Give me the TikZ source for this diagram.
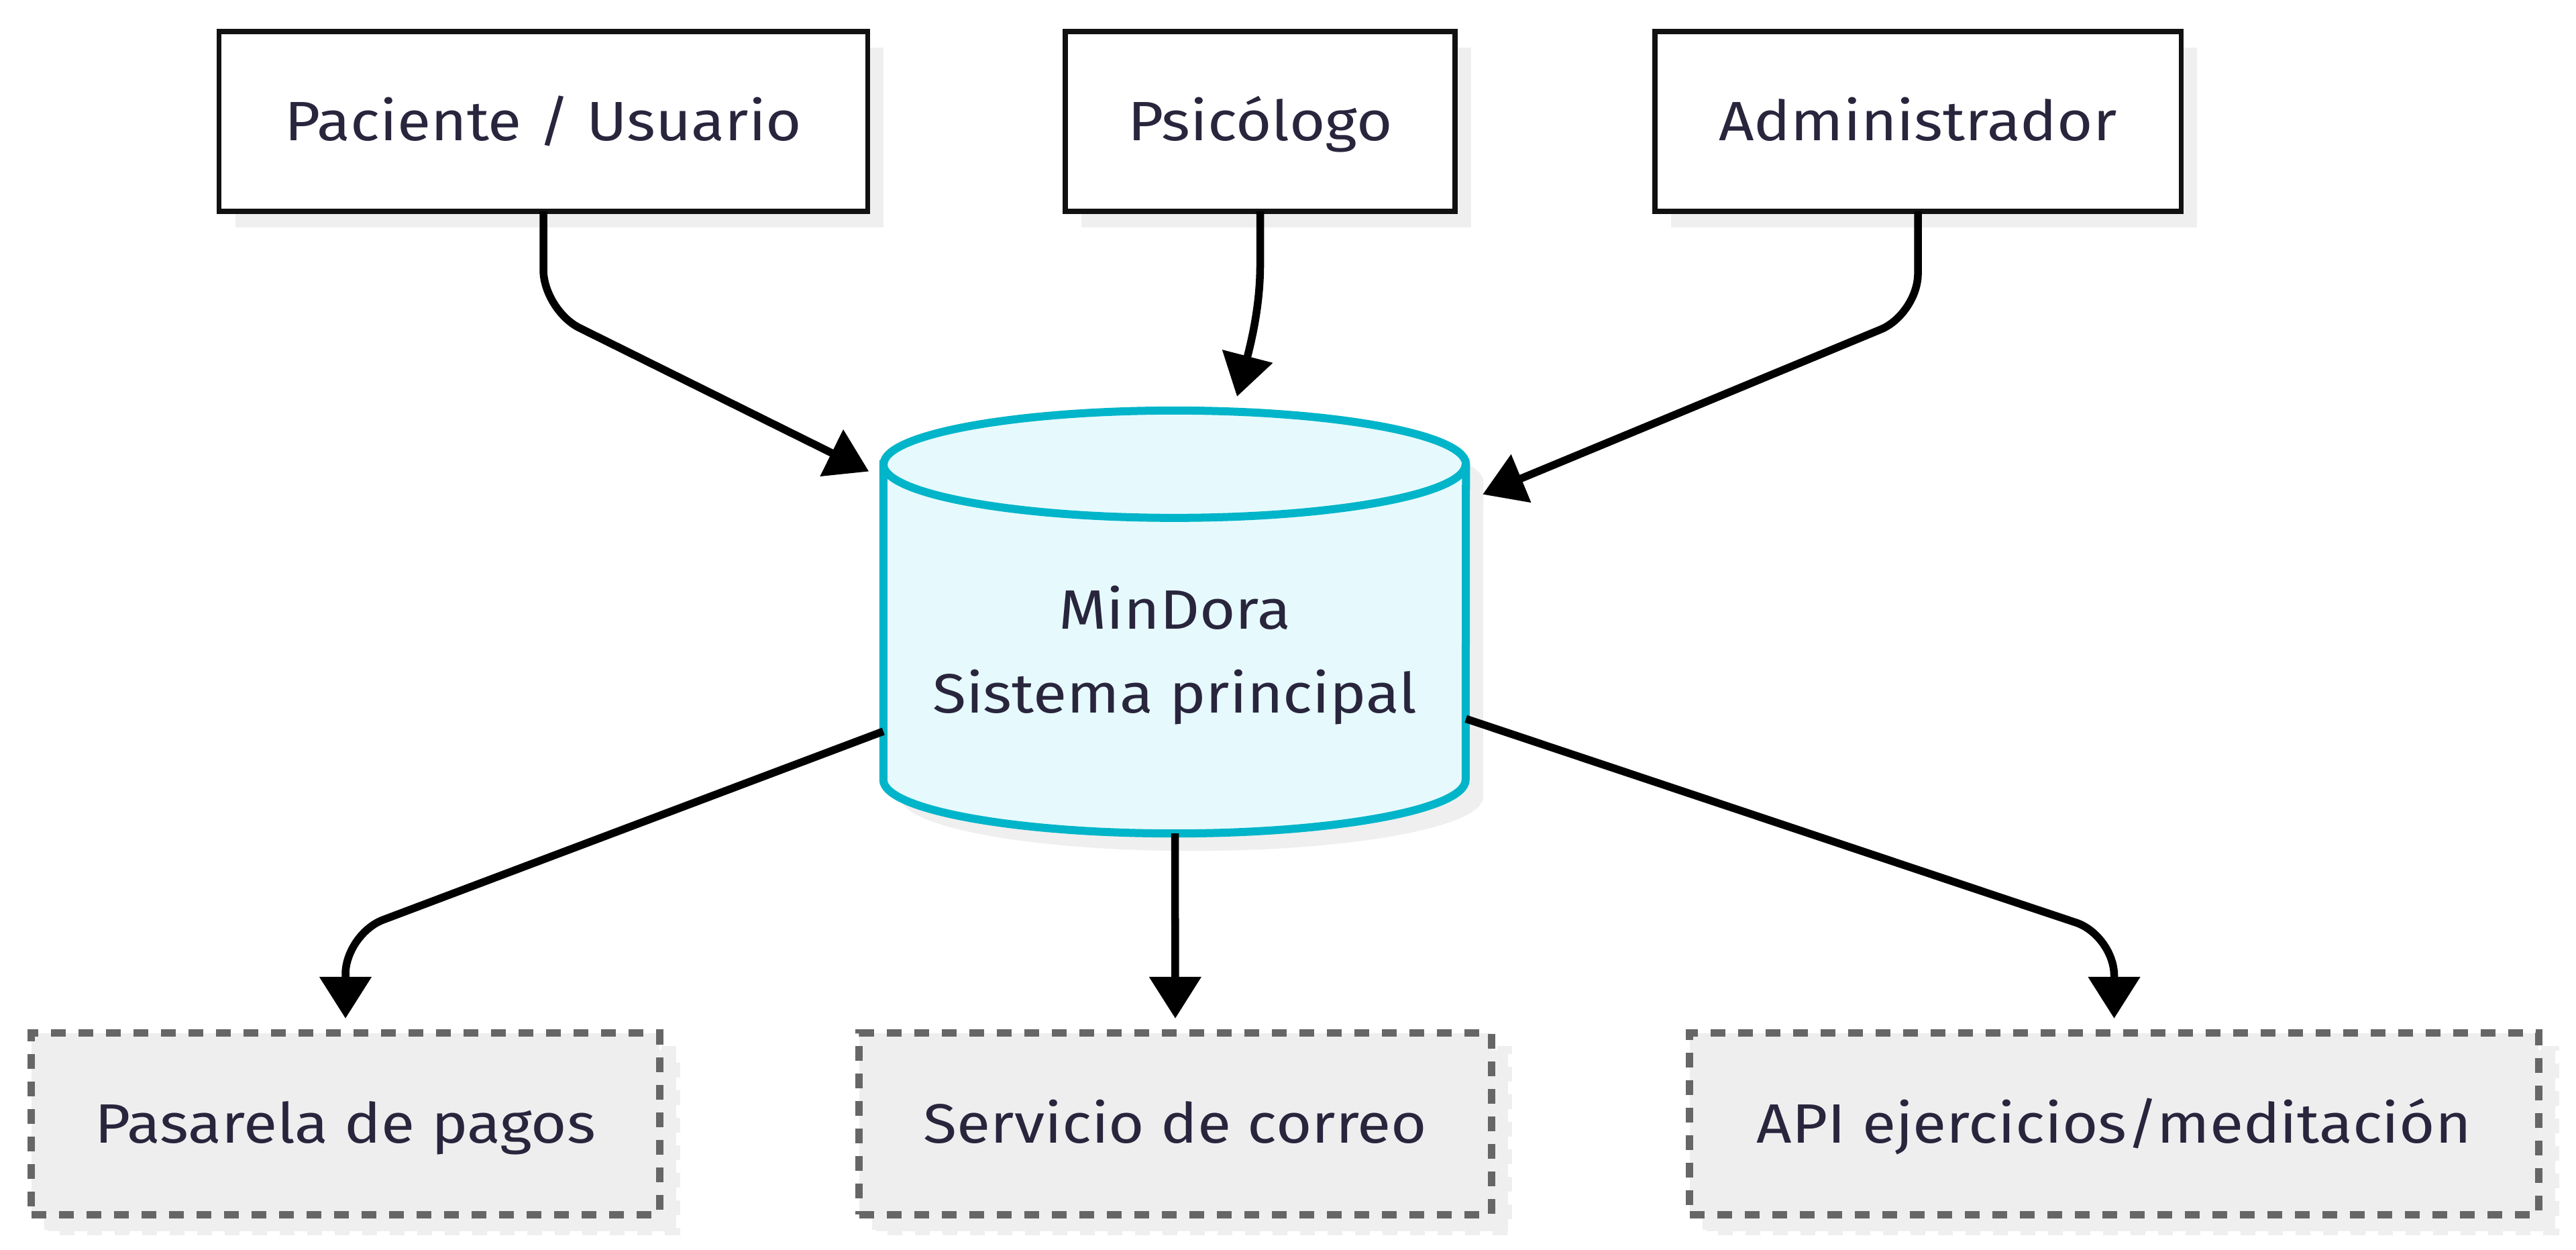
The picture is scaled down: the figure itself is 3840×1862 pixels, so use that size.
\documentclass[tikz,border=0pt]{standalone}
\usepackage{fontspec}
\setmainfont{Fira Sans}[FakeStretch=1.11]
\usetikzlibrary{arrows.meta,calc}
\pgfdeclarelayer{bg}
\pgfsetlayers{bg,main}
\definecolor{txt}{HTML}{28253D}
\definecolor{cyanS}{HTML}{00B5C9}
\definecolor{cyanF}{HTML}{E6FAFD}
\definecolor{shadowC}{HTML}{EFEFEF}
\definecolor{dashC}{HTML}{666666}
\definecolor{extF}{HTML}{EEEEEE}
\definecolor{boxS}{HTML}{111111}
\begin{document}
\begin{tikzpicture}[x=0.01cm,y=-0.01cm,
  lbl/.style={font=\fontsize{23.5}{35.6}\selectfont, text=txt, text height=0.57cm, text depth=0pt, inner sep=0pt, outer sep=0pt},
  actor/.style={lbl, draw=boxS, fill=white, line width=0.075cm, minimum height=2.68cm},
  ext/.style={lbl, draw=dashC, fill=extF, line width=0.11cm, dash pattern=on 0.22cm off 0.19cm, minimum height=2.7cm},
  extshadow/.style={fill=shadowC, draw=shadowC, line width=0.11cm, dash pattern=on 0.22cm off 0.19cm},
  cyltxt/.style={font=\fontsize{23.5}{35.6}\selectfont, text=txt, inner sep=0pt, anchor=base},
  cyl/.style={fill=cyanF, draw=cyanS, line width=0.12cm},
  arr/.style={line width=0.115cm, rounded corners=0.6cm, -{Triangle[length=0.62cm,width=0.75cm]}},
]
\useasboundingbox (0,0) rectangle (3840,1862);
\begin{pgfonlayer}{bg}
\fill[white] (0,0) rectangle (3840,1862);
\end{pgfonlayer}

% actors
\node[actor, minimum width=9.66cm] (pac) at (810,181) {Paciente / Usuario};
\node[actor, minimum width=5.81cm] (psi) at (1878.5,181) {Psicólogo};
\node[actor, minimum width=7.84cm] (adm) at (2859,181) {Administrador};

% central system (cylinder)
\node[inner sep=0pt, outer sep=0pt, minimum width=8.68cm, minimum height=6.30cm] (sys) at (1751,927) {};
\filldraw[cyl] ($(sys.north west)+(0,80)$) -- ($(sys.south west)+(0,-80)$)
  arc[start angle=180, end angle=0, x radius=434, y radius=80]
  -- ($(sys.north east)+(0,80)$)
  arc[start angle=0, end angle=-180, x radius=434, y radius=80] -- cycle;
\draw[cyl, fill=none] ($(sys.north west)+(0,80)$) arc[start angle=180, end angle=0, x radius=434, y radius=80];
\node[cyltxt] (sysA) at (1751,937) {MinDora};
\node[cyltxt] (sysB) at (1751,1062) {Sistema principal};

% external services
\node[ext, minimum width=9.36cm] (pas) at (515,1675) {Pasarela de pagos};
\node[ext, minimum width=9.42cm] (srv) at (1752,1675) {Servicio de correo};
\node[ext, minimum width=12.65cm] (api) at (3151.5,1675) {API ejercicios/meditación};

% shadows
\begin{pgfonlayer}{bg}
\foreach \n in {pac,psi,adm}{
  \fill[shadowC] ($(\n.north west)+(24,24)$) rectangle ($(\n.south east)+(24,24)$);
}
\foreach \n in {pas,srv,api}{
  \path[extshadow] ($(\n.north west)+(25,25)$) rectangle ($(\n.south east)+(25,25)$);
}
\fill[shadowC] ($(sys.north west)+(26,106)$) -- ($(sys.south west)+(26,-54)$)
  arc[start angle=180, end angle=0, x radius=434, y radius=80]
  -- ($(sys.north east)+(26,106)$)
  arc[start angle=0, end angle=-180, x radius=434, y radius=80] -- cycle;
\end{pgfonlayer}

% connectors
\draw[arr, shorten >=0.24cm] (pac.south) -- (pac.south |- 0,462) -- (sys);
\coordinate (psiEnd) at ($(sys.center)+(93,-336)$);
\draw[arr, sharp corners] (psi.south) -- (psi.south |- 0,394) .. controls +(0,50) and +(26,-100) .. (psiEnd);
\draw[arr, shorten >=0.27cm] (adm.south) -- (adm.south |- 0,468) -- (sys);

\draw[arr, shorten >=0.22cm] (sys) -- (pas.north |- 0,1392) -- (pas.north);
\draw[arr, shorten >=0.22cm] (sys) -- (srv.north);
\draw[arr, shorten >=0.22cm] (sys) -- (api.north |- 0,1394) -- (api.north);
\end{tikzpicture}
\end{document}
